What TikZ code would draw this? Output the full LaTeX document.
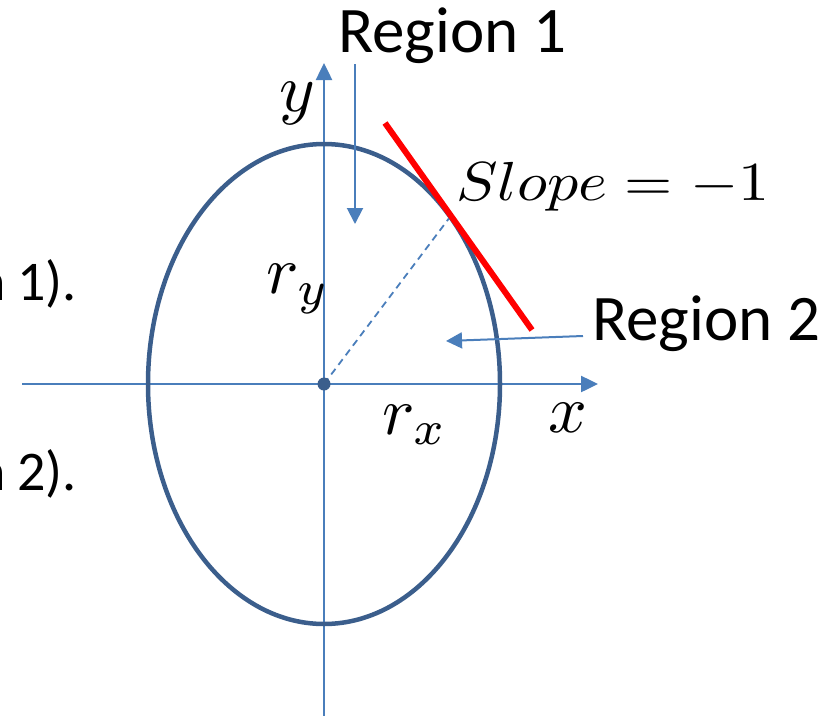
\documentclass[tikz,border=0pt]{standalone}
\usepackage{fontspec}
\setmainfont{Carlito}
\usetikzlibrary{arrows.meta}
\definecolor{axisblue}{HTML}{4A7EBB}
\definecolor{ellblue}{HTML}{3B5E8C}
\begin{document}
\begin{tikzpicture}[x=1pt,y=-1pt,
  axis/.style={draw=axisblue, line width=2.5pt, -{Triangle[length=17pt,width=16pt]}},
  ptr/.style={draw=axisblue, line width=2pt, -{Triangle[length=16pt,width=16pt]}},
  reg/.style={font=\fontsize{65}{72}\selectfont, inner sep=0pt},
  lbl/.style={font=\fontsize{10}{12}\selectfont, inner sep=0pt, scale=6.8},
  frag/.style={font=\fontsize{56}{60}\selectfont, inner sep=0pt}]
\useasboundingbox (0,0) rectangle (819,715);
\clip (0,0) rectangle (819,715);
\coordinate (O) at (324,384);
\coordinate (xs) at (22,384);
\coordinate (xe) at (598,384);
\coordinate (ys) at (324,716);
\coordinate (ye) at (324,63);
\draw[axis] (xs) -- (xe);
\draw[axis] (ys) -- (ye);
\draw[ellblue, line width=4.5pt] (O) ellipse [x radius=176pt, y radius=240pt];
\coordinate (T) at (450,217);
\draw[axisblue, line width=1.8pt, dash pattern=on 7pt off 5pt] (O) -- (T);
\fill[ellblue] (O) circle (6.5pt);
\coordinate (ra) at (385,123);
\coordinate (rb) at (532,330);
\draw[red, line width=6pt] (ra) -- (rb);
% region labels and pointers
\node[reg, anchor=base west] (r1) at (338,52) {Region 1};
\node[reg, anchor=base west] (r2) at (592,340) {Region 2};
\coordinate (p1s) at (355,64);
\coordinate (p1e) at (355,224);
\draw[ptr] (p1s) -- (p1e);
\coordinate (p2s) at (583,336);
\coordinate (p2e) at (446,341);
\draw[ptr] (p2s) -- (p2e);
\node[font=\fontsize{10}{12}\selectfont, inner sep=0pt, anchor=base west, xscale=6.2, yscale=5.5] (sl) at (455,200) {$Slope=-1$};
% axis labels
\node[lbl] (ly) at (297,103) {$y$};
\node[lbl] (lry) at (298,289) {$r_y$};
\node[lbl] (lrx) at (415,425) {$r_x$};
\node[lbl] (lx) at (568,418) {$x$};
% clipped fragments
\node[frag, anchor=base east] (f1) at (77,300) {n\kern-1pt\ 1).};
\node[frag, anchor=base east] (f2) at (77,490) {n\kern-1pt\ 2).};
\end{tikzpicture}
\end{document}
